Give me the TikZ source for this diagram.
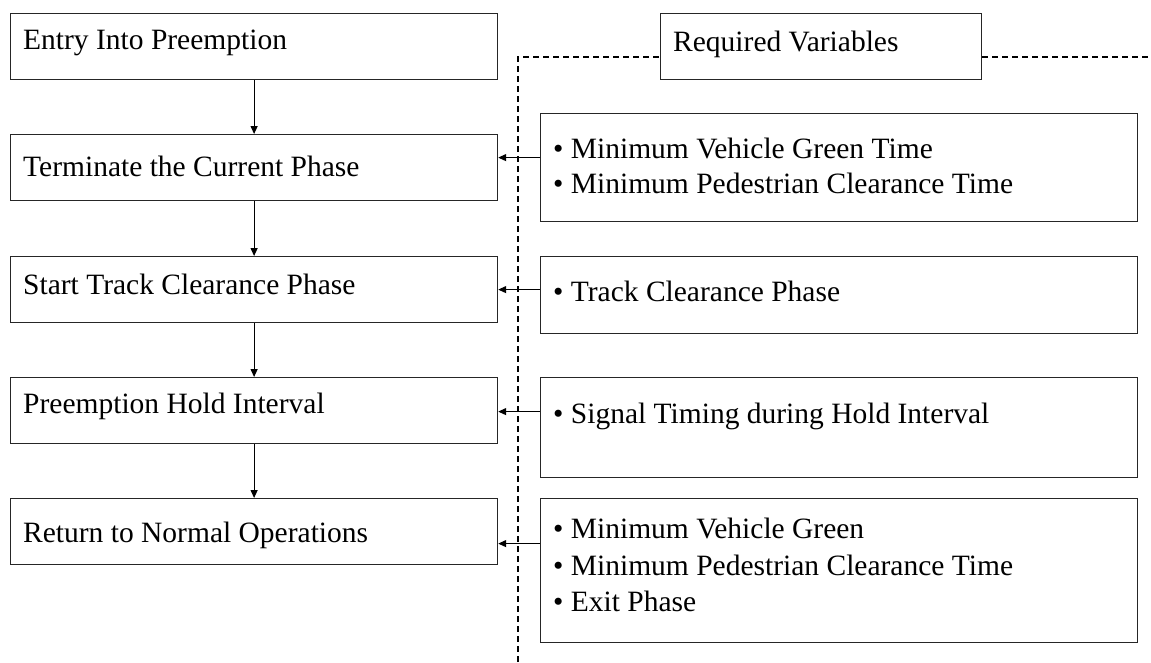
\documentclass[tikz,border=0pt]{standalone}
\usepackage{fontspec}
\setmainfont{Liberation Serif}
\usetikzlibrary{arrows.meta}
\begin{document}
\begin{tikzpicture}[x=1pt,y=-1pt,
  box/.style={draw=black!85,line width=1.2pt,rectangle,inner sep=0pt,anchor=north west},
  txt/.style={anchor=base west,inner sep=0pt,font=\fontsize{29.5}{35}\selectfont},
  arr/.style={draw=black,line width=1.2pt,-{Triangle[length=8pt,width=7pt]}},
  dashline/.style={draw=black,line width=1.6pt,dash pattern=on 6pt off 4pt}]
\useasboundingbox (0,0) rectangle (1151,662);
% left boxes
\node[box,minimum width=487pt,minimum height=66pt] (b1) at (10,13) {};
\node[box,minimum width=487pt,minimum height=66pt] (b2) at (10,134) {};
\node[box,minimum width=487pt,minimum height=66pt] (b3) at (10,256) {};
\node[box,minimum width=487pt,minimum height=66pt] (b4) at (10,377) {};
\node[box,minimum width=487pt,minimum height=66pt] (b5) at (10,498) {};
\node[txt] (t1) at (23,49) {Entry Into Preemption};
\node[txt] (t2) at (23,176) {Terminate the Current Phase};
\node[txt] (t3) at (23,294) {Start Track Clearance Phase};
\node[txt] (t4) at (23,413) {Preemption Hold Interval};
\node[txt] (t5) at (23,542) {Return to Normal Operations};
% required variables
\node[box,minimum width=321pt,minimum height=66pt] (rv) at (660,13) {};
\node[txt] (trv) at (673,51) {Required Variables};
% right boxes
\node[box,minimum width=597pt,minimum height=108pt] (r1) at (540,113) {};
\node[box,minimum width=597pt,minimum height=77pt] (r2) at (540,256) {};
\node[box,minimum width=597pt,minimum height=100pt] (r3) at (540,377) {};
\node[box,minimum width=597pt,minimum height=144pt] (r4) at (540,498) {};
\node[txt] (s1a) at (553,158) {• Minimum Vehicle Green Time};
\node[txt] (s1b) at (553,193) {• Minimum Pedestrian Clearance Time};
\node[txt] (s2) at (553,301) {• Track Clearance Phase};
\node[txt] (s3) at (553,423) {• Signal Timing during Hold Interval};
\node[txt] (s4a) at (553,538) {• Minimum Vehicle Green};
\node[txt] (s4b) at (553,575) {• Minimum Pedestrian Clearance Time};
\node[txt] (s4c) at (553,611) {• Exit Phase};
% dashed frame
\coordinate (dbot) at (518,662);
\coordinate (dtop) at (518,57);
\coordinate (dright) at (1151,57);
\draw[dashline] (dbot) -- (dtop) -- (rv.west |- dtop);
\draw[dashline] (rv.east |- dtop) -- (dright);
% vertical arrows
\draw[arr] (b1.south) -- (b2.north);
\draw[arr] (b2.south) -- (b3.north);
\draw[arr] (b3.south) -- (b4.north);
\draw[arr] (b4.south) -- (b5.north);
% horizontal arrows
\draw[arr] ([yshift=10pt]r1.west) -- ([yshift=10pt]b2.east);
\draw[arr] ([yshift=5.5pt]r2.west) -- (b3.east);
\draw[arr] ([yshift=16pt]r3.west) -- ([yshift=-1pt]b4.east);
\draw[arr] ([yshift=27pt]r4.west) -- ([yshift=-12pt]b5.east);
\end{tikzpicture}
\end{document}
